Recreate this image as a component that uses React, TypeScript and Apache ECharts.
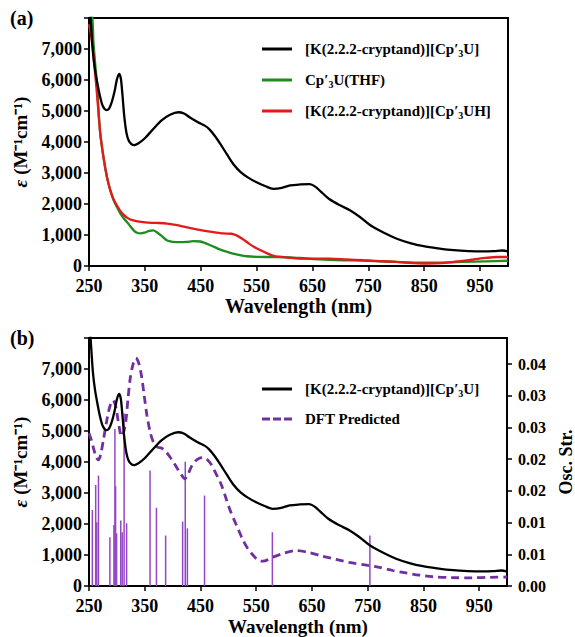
import React, { useEffect, useRef } from 'react';
import * as echarts from 'echarts';

// [K(2.2.2-cryptand)][Cp'3U] experimental spectrum
const blackWl = [250, 253, 257, 261, 266, 270, 275, 281, 286, 291, 296, 300, 304, 307, 310, 313, 317, 321, 326, 331, 338, 350, 365, 380, 395, 410, 420, 430, 445, 458, 466, 475, 485, 497, 510, 522, 535, 550, 565, 580, 595, 610, 628, 645, 655, 665, 680, 700, 717, 735, 753, 777, 801, 825, 849, 875, 903, 930, 955, 975, 990, 1000];
const blackEps = [8700, 7950, 6900, 6300, 5800, 5450, 5150, 5030, 5080, 5300, 5650, 6020, 6200, 6050, 5500, 4850, 4300, 4050, 3930, 3900, 3950, 4120, 4420, 4700, 4880, 4960, 4920, 4800, 4640, 4520, 4400, 4200, 3940, 3600, 3250, 3020, 2850, 2700, 2580, 2490, 2520, 2600, 2630, 2640, 2560, 2400, 2160, 1950, 1800, 1580, 1320, 1080, 880, 740, 640, 570, 510, 480, 470, 480, 500, 470];

// Cp'3U(THF)
const greenWl = [250, 256, 258, 264, 270, 276, 282, 288, 294, 300, 306, 312, 318, 324, 330, 336, 342, 350, 358, 365, 372, 380, 390, 400, 413, 425, 437, 449, 458, 467, 476, 485, 497, 508, 520, 532, 550, 568, 590, 610, 640, 680, 720, 760, 800, 840, 880, 920, 960, 1000];
const greenEps = [8600, 8000, 7200, 5900, 4300, 3500, 2880, 2450, 2130, 1900, 1700, 1540, 1420, 1280, 1150, 1070, 1050, 1080, 1130, 1150, 1080, 970, 820, 780, 770, 780, 800, 790, 740, 670, 600, 530, 460, 400, 350, 315, 295, 290, 290, 280, 240, 200, 180, 160, 130, 110, 110, 130, 150, 170];

// [K(2.2.2-cryptand)][Cp'3UH]
const redWl = [250, 253, 257, 261, 265, 270, 276, 282, 288, 294, 300, 306, 312, 318, 324, 330, 340, 355, 370, 390, 405, 415, 430, 450, 470, 490, 505, 515, 525, 535, 545, 558, 570, 582, 595, 620, 650, 680, 710, 741, 770, 801, 830, 849, 870, 891, 915, 938, 960, 980, 1000];
const redEps = [7800, 7500, 7000, 6200, 5400, 4300, 3500, 2880, 2450, 2150, 1950, 1780, 1650, 1560, 1500, 1470, 1430, 1400, 1390, 1370, 1330, 1290, 1230, 1160, 1100, 1050, 1040, 980, 870, 740, 620, 500, 400, 320, 290, 250, 240, 240, 215, 185, 160, 130, 95, 80, 85, 110, 160, 210, 260, 290, 290];

// DFT predicted spectrum
const dftWl = [250, 254, 258, 263, 267, 271, 276, 281, 285, 289, 293, 297, 300, 304, 308, 312, 316, 320, 324, 329, 334, 339, 344, 349, 354, 360, 366, 373, 380, 388, 395, 403, 410, 416, 422, 428, 434, 441, 448, 455, 462, 470, 478, 486, 494, 502, 510, 518, 526, 535, 544, 552, 559, 567, 580, 600, 622, 645, 669, 693, 717, 745, 771, 795, 819, 843, 866, 900, 938, 970, 1000];
const dftEps = [4930, 4720, 4450, 4150, 4070, 4250, 4730, 5250, 5620, 5880, 5990, 5850, 5580, 5150, 4830, 4960, 5300, 6050, 6700, 7150, 7350, 7200, 6800, 6150, 5500, 4950, 4620, 4480, 4450, 4330, 4170, 3950, 3750, 3580, 3460, 3620, 3860, 4030, 4120, 4140, 4080, 3900, 3620, 3330, 2930, 2500, 2150, 1820, 1490, 1200, 1000, 860, 800, 820, 930, 1060, 1140, 1080, 960, 860, 760, 680, 600, 500, 420, 350, 300, 270, 265, 280, 290];

// Oscillator strengths (sticks)
const stickWl = [256, 262, 264, 267, 287.5, 294.7, 296.5, 297.7, 299.5, 307, 309.6, 313, 317.5, 359.5, 371, 387.5, 418, 422.7, 426.5, 457.3, 579, 754];
const stickOsc = [0.0137, 0.0182, 0.0115, 0.0199, 0.0088, 0.011, 0.0283, 0.018, 0.0095, 0.0118, 0.0097, 0.0311, 0.0113, 0.0208, 0.0141, 0.0091, 0.0116, 0.0224, 0.0104, 0.0163, 0.0097, 0.0091];

const xTicks = { min: 250, max: 1000, interval: 100 };
const epsAxis = { min: 0, max: 8000, interval: 1000 };
const oscAxis = { min: 0, max: 0.0447, interval: 0.04 / 7 };

const names: Record<string, string> = {
  blackA: '[K(2.2.2-cryptand)][Cp′{s|3}U]',
  green: 'Cp′{s|3}U(THF)',
  red: '[K(2.2.2-cryptand)][Cp′{s|3}UH]',
  blackB: '[K(2.2.2-cryptand)][Cp′{s|3}U]',
  dft: 'DFT Predicted',
};

const zip = (a: number[], b: number[]) => a.map((v, i) => [v, b[i]]);

const SOLID = 'rect';
const DASHED = 'path://M0,0h8v3h-8z M11,0h8v3h-8z M22,0h8v3h-8z';

export default function App() {
  const ref = useRef<HTMLDivElement>(null);
  useEffect(() => {
    const chart = echarts.init(ref.current!, null, { renderer: 'svg' });
    const font = "'Liberation Serif', 'Times New Roman', Times, serif";
    const bold = { fontFamily: font, fontWeight: 'bold' as const, color: '#000' };
    const xAxisBase = (grid: number, gap: number, size: number) => ({
      type: 'value',
      gridIndex: grid,
      ...xTicks,
      axisLine: { show: true, lineStyle: { color: '#000', width: 2 } },
      axisTick: { show: true, length: 5, lineStyle: { color: '#000', width: 1.5 } },
      axisLabel: { ...bold, fontSize: 18, margin: 11, showMaxLabel: false },
      splitLine: { show: false },
      name: 'Wavelength (nm)',
      nameLocation: 'middle',
      nameGap: gap,
      nameTextStyle: { ...bold, fontSize: size },
    });
    const yAxisBase = (grid: number) => ({
      type: 'value',
      gridIndex: grid,
      ...epsAxis,
      axisLine: { show: true, lineStyle: { color: '#000', width: 2 } },
      axisTick: { show: true, length: 5, lineStyle: { color: '#000', width: 1.5 } },
      axisLabel: {
        ...bold,
        fontSize: 18,
        margin: 7,
        formatter: (v: number) => (v >= 8000 ? '' : v.toLocaleString('en-US')),
      },
      splitLine: { show: false },
      name: '{e|ε} (M⁻¹cm⁻¹)',
      nameLocation: 'middle',
      nameRotate: 90,
      nameGap: 59,
      nameTextStyle: { ...bold, fontSize: 19, rich: { e: { ...bold, fontSize: 19, fontStyle: 'italic' } } },
    });
    const legendBase = (top: number, gap: number, data: { name: string; icon: string }[]) => ({
      orient: 'vertical',
      left: 262,
      top,
      padding: 0,
      itemWidth: 30,
      itemHeight: 3,
      itemGap: gap,
      data,
      formatter: (n: string) => names[n],
      textStyle: {
        ...bold,
        fontSize: 15,
        lineHeight: 18,
        padding: [0, 0, 0, 8],
        rich: { s: { ...bold, fontSize: 10, lineHeight: 18, verticalAlign: 'bottom' } },
      },
    });
    const line = (name: string, x: number, y: number, wl: number[], eps: number[], color: string, extra: any = {}) => ({
      type: 'line',
      name,
      xAxisIndex: x,
      yAxisIndex: y,
      data: zip(wl, eps),
      showSymbol: false,
      symbol: 'none',
      smooth: 0.3,
      clip: true,
      lineStyle: { color, width: 2.3, ...extra },
      itemStyle: { color },
      z: 3,
    });
    chart.setOption({
      animation: false,
      backgroundColor: '#fff',
      textStyle: { fontFamily: font },
      grid: [
        { left: 89, top: 18, width: 419, height: 248, show: true, borderColor: '#000', borderWidth: 2, containLabel: false, outerBoundsMode: 'none' },
        { left: 89, top: 338, width: 418, height: 248, show: true, borderColor: '#000', borderWidth: 2, containLabel: false, outerBoundsMode: 'none' },
      ],
      xAxis: [xAxisBase(0, 30, 20), xAxisBase(1, 31, 19)],
      yAxis: [
        yAxisBase(0),
        yAxisBase(1),
        {
          type: 'value',
          gridIndex: 1,
          position: 'right',
          ...oscAxis,
          axisLine: { show: true, lineStyle: { color: '#000', width: 2 } },
          axisTick: { show: true, length: 5, lineStyle: { color: '#000', width: 1.5 } },
          axisLabel: { ...bold, fontSize: 16, margin: 11, showMaxLabel: false, formatter: (v: number) => v.toFixed(2) },
          splitLine: { show: false },
          name: 'Osc. Str.',
          nameLocation: 'middle',
          nameRotate: 90,
          nameGap: 44,
          nameTextStyle: { ...bold, fontSize: 18 },
        },
      ],
      legend: [
        legendBase(40, 13, [
          { name: 'blackA', icon: SOLID },
          { name: 'green', icon: SOLID },
          { name: 'red', icon: SOLID },
        ]),
        legendBase(380, 12, [
          { name: 'blackB', icon: SOLID },
          { name: 'dft', icon: DASHED },
        ]),
      ],
      graphic: [
        { type: 'text', left: 10, top: 8, style: { text: '(a)', font: `bold 20px ${font}`, fill: '#000' } },
        { type: 'text', left: 10, top: 328, style: { text: '(b)', font: `bold 20px ${font}`, fill: '#000' } },
      ],
      series: [
        line('green', 0, 0, greenWl, greenEps, '#1e8c1e'),
        line('red', 0, 0, redWl, redEps, '#e3191c'),
        line('blackA', 0, 0, blackWl, blackEps, '#000'),
        {
          type: 'custom',
          name: 'sticks',
          xAxisIndex: 1,
          yAxisIndex: 2,
          data: zip(stickWl, stickOsc),
          encode: { x: 0, y: 1 },
          clip: true,
          z: 1,
          renderItem: (_p: any, api: any) => {
            const p0 = api.coord([api.value(0), 0]);
            const p1 = api.coord([api.value(0), api.value(1)]);
            return {
              type: 'line',
              shape: { x1: p0[0], y1: p0[1], x2: p1[0], y2: p1[1] },
              style: { stroke: '#9347c6', lineWidth: 1.5 },
            };
          },
        },
        line('dft', 1, 1, dftWl, dftEps, '#7030a0', { type: [8, 5], width: 2.8 }),
        line('blackB', 1, 1, blackWl, blackEps, '#000'),
      ],
    });
    return () => chart.dispose();
  }, []);
  return (
    <div
      ref={ref}
      style={{ position: 'fixed', left: 0, top: 0, width: 575, height: 637, background: '#fff' }}
    />
  );
}
